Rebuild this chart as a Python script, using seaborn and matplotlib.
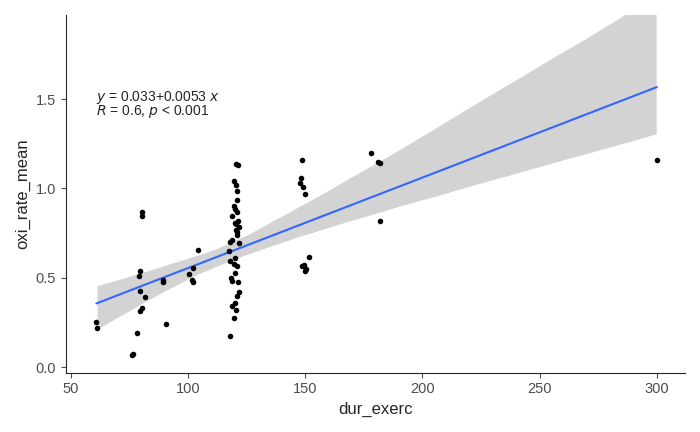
import numpy as np
import pandas as pd
import seaborn as sns
import matplotlib.pyplot as plt

# values
dur_exerc = [61, 61.4, 76.7, 76.3, 78.5, 79.4, 80.4, 79.7, 79.3, 79.7, 81.8, 80.5, 80.5,
             89.3, 89.4, 90.5, 100.5, 102.2, 101.7, 102.4, 104.3,
             120.5, 121.5, 119.5, 120.5, 121, 121, 119.5, 120, 121, 119, 121.5, 120, 122, 120.5, 121,
             119, 118, 122, 120, 118, 119.5, 121, 120, 118.5, 119, 121.5, 122, 120, 119, 120.5, 119.5,
             118, 121, 120.5, 117.5, 121,
             148.5, 148.3, 150, 148, 149, 150, 148.5, 149.5, 150.5, 151.8,
             178, 181, 182, 182, 300]
oxi_rate_mean = [0.255, 0.217, 0.075, 0.07, 0.19, 0.317, 0.33, 0.54, 0.51, 0.425, 0.39, 0.87, 0.845,
                 0.49, 0.477, 0.244, 0.52, 0.555, 0.488, 0.474, 0.654,
                 1.135, 1.129, 1.042, 1.02, 0.987, 0.938, 0.902, 0.883, 0.87, 0.847, 0.82, 0.805, 0.783, 0.765, 0.756,
                 0.71, 0.70, 0.692, 0.61, 0.592, 0.579, 0.568, 0.528, 0.5, 0.483, 0.474, 0.419, 0.361, 0.341, 0.319, 0.277,
                 0.173, 0.74, 0.80, 0.65, 0.40,
                 1.16, 1.06, 0.97, 1.03, 1.01, 0.54, 0.565, 0.57, 0.55, 0.615,
                 1.2, 1.15, 1.14, 0.82, 1.16]

df = pd.DataFrame({"dur_exerc": dur_exerc, "oxi_rate_mean": oxi_rate_mean})

sns.set_style("ticks")
plt.rcParams['font.family'] = ['Liberation Sans', 'DejaVu Sans']
fig, ax = plt.subplots(figsize=(7, 4.32), dpi=100)

# line + band first, points on top
sns.regplot(data=df, x="dur_exerc", y="oxi_rate_mean", ax=ax, truncate=True,
            scatter=False, ci=95, n_boot=2000, seed=3,
            line_kws={"color": "#3366FF", "lw": 1.5}, color="#999999")
for c in ax.collections:
    c.set_facecolor("#d3d3d3")
    c.set_alpha(1)
sns.scatterplot(data=df, x="dur_exerc", y="oxi_rate_mean", ax=ax, color="black",
                s=16, linewidth=0, zorder=5)

ax.text(61, 1.51, r"$y$ = 0.033+0.0053 $x$", fontsize=10, va="center")
ax.text(61, 1.43, r"$R$ = 0.6, $p$ < 0.001", fontsize=10, va="center")

ax.set_xlim(48, 312)
ax.set_ylim(-0.03, 1.97)
ax.set_xticks([50, 100, 150, 200, 250, 300])
ax.set_yticks([0.0, 0.5, 1.0, 1.5])
ax.set_yticklabels(["0.0", "0.5", "1.0", "1.5"])
ax.tick_params(labelsize=10.5, colors="#4d4d4d")
ax.set_xlabel("dur_exerc", fontsize=12)
ax.set_ylabel("oxi_rate_mean", fontsize=12)
sns.despine(ax=ax)
plt.tight_layout()
fig.savefig("out.png", dpi=100)
